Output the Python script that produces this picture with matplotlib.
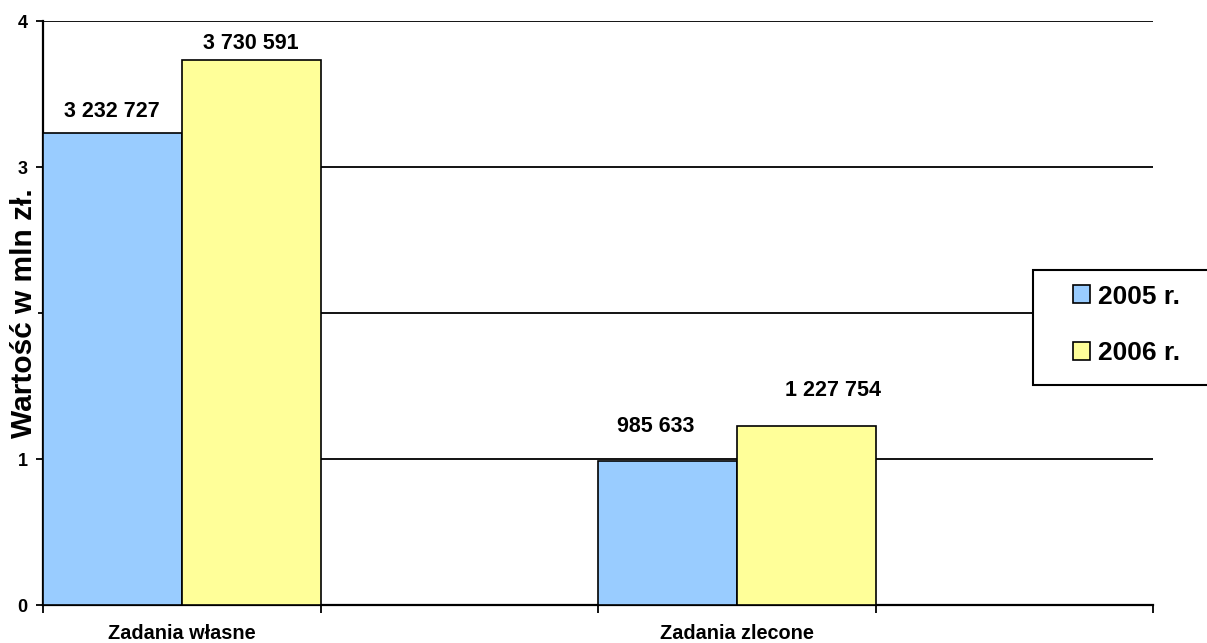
import matplotlib.pyplot as plt
from matplotlib.patches import Patch, Rectangle
from matplotlib.ticker import FixedLocator

plt.rcParams["font.family"] = ["Liberation Sans", "DejaVu Sans"]
plt.rcParams["font.weight"] = "bold"

CATEGORIES = ["Zadania własne", "Zadania zlecone"]
SERIES = ["2005 r.", "2006 r."]
VALUES_2005 = [3232727, 985633]
VALUES_2006 = [3730591, 1227754]
COLORS = ["#99CCFF", "#FFFF99"]

# per-label nudge in pixels (Excel placed them unevenly)
LABEL_NUDGE = [[(0, 11), (-12, 24)], [(0, 6), (27, 25)]]

W, H = 1207, 643


def fmt(v: int) -> str:
    return f"{v:,}".replace(",", " ")


fig = plt.figure(figsize=(W / 100, H / 100), dpi=100)
ax = fig.add_axes([43 / W, 38 / H, (1153 - 43) / W, (605 - 21) / H])

positions = [2 * i for i in range(len(CATEGORIES))]
bar_w = 0.5
for s, (vals, color) in enumerate(zip([VALUES_2005, VALUES_2006], COLORS)):
    xs = [p - bar_w / 2 + s * bar_w for p in positions]
    heights = [v / 1e6 for v in vals]
    ax.bar(xs, heights, width=bar_w, color=color, edgecolor="black",
           linewidth=1.2, zorder=3)
    for i, (x, h, v) in enumerate(zip(xs, heights, vals)):
        dx, dy = LABEL_NUDGE[s][i]
        ax.annotate(fmt(v), (x, h), xytext=(dx * 0.72, dy * 0.72),
                    textcoords="offset points", ha="center", va="bottom",
                    fontsize=15.5, fontweight="bold")

ax.set_xlim(-0.5, 2 * len(CATEGORIES) - 0.5)
ax.set_ylim(0, 4)
ax.set_yticks([0, 1, 2, 3, 4])
ax.set_yticklabels(["0", "1", "2", "3", "4"], fontsize=13, fontweight="bold")
ax.yaxis.grid(True, color="black", linewidth=1.3, zorder=0)
ax.set_axisbelow(True)

ax.set_xticks(positions)
ax.set_xticklabels(CATEGORIES, fontsize=14.3, fontweight="bold")
ax.xaxis.set_minor_locator(FixedLocator([x - 0.5 for x in range(2 * len(CATEGORIES) + 1)]))
ax.tick_params(axis="x", which="major", length=0, pad=13.5)
ax.tick_params(axis="x", which="minor", length=6, width=1.3, direction="out")
ax.tick_params(axis="y", length=5, width=1.3, direction="out", pad=6)

for side in ["top", "right"]:
    ax.spines[side].set_visible(False)
for side in ["left", "bottom"]:
    ax.spines[side].set_linewidth(1.6)

fig.text(24 / W, 1 - 313 / H, "Wartość w mln zł.", rotation=90,
         ha="center", va="center", fontsize=21.5, fontweight="bold",
         bbox=dict(facecolor="white", edgecolor="none", pad=0), zorder=10)

# legend box (runs off the right edge like the original)
fig.add_artist(Rectangle((1033 / W, 1 - 385 / H), 200 / W, 115 / H,
                         transform=fig.transFigure, facecolor="white",
                         edgecolor="black", linewidth=1.5, clip_on=False))
handles = [Patch(facecolor=c, edgecolor="black", linewidth=1.2) for c in COLORS]
fig.legend(handles, SERIES, loc="center left",
           bbox_to_anchor=(1073 / W, 1 - 325 / H), bbox_transform=fig.transFigure,
           frameon=False, borderpad=0, borderaxespad=0,
           handlelength=0.65, handleheight=0.65, handletextpad=0.3,
           labelspacing=1.25, prop={"size": 19, "weight": "bold"})

fig.savefig("out.png", dpi=100)
